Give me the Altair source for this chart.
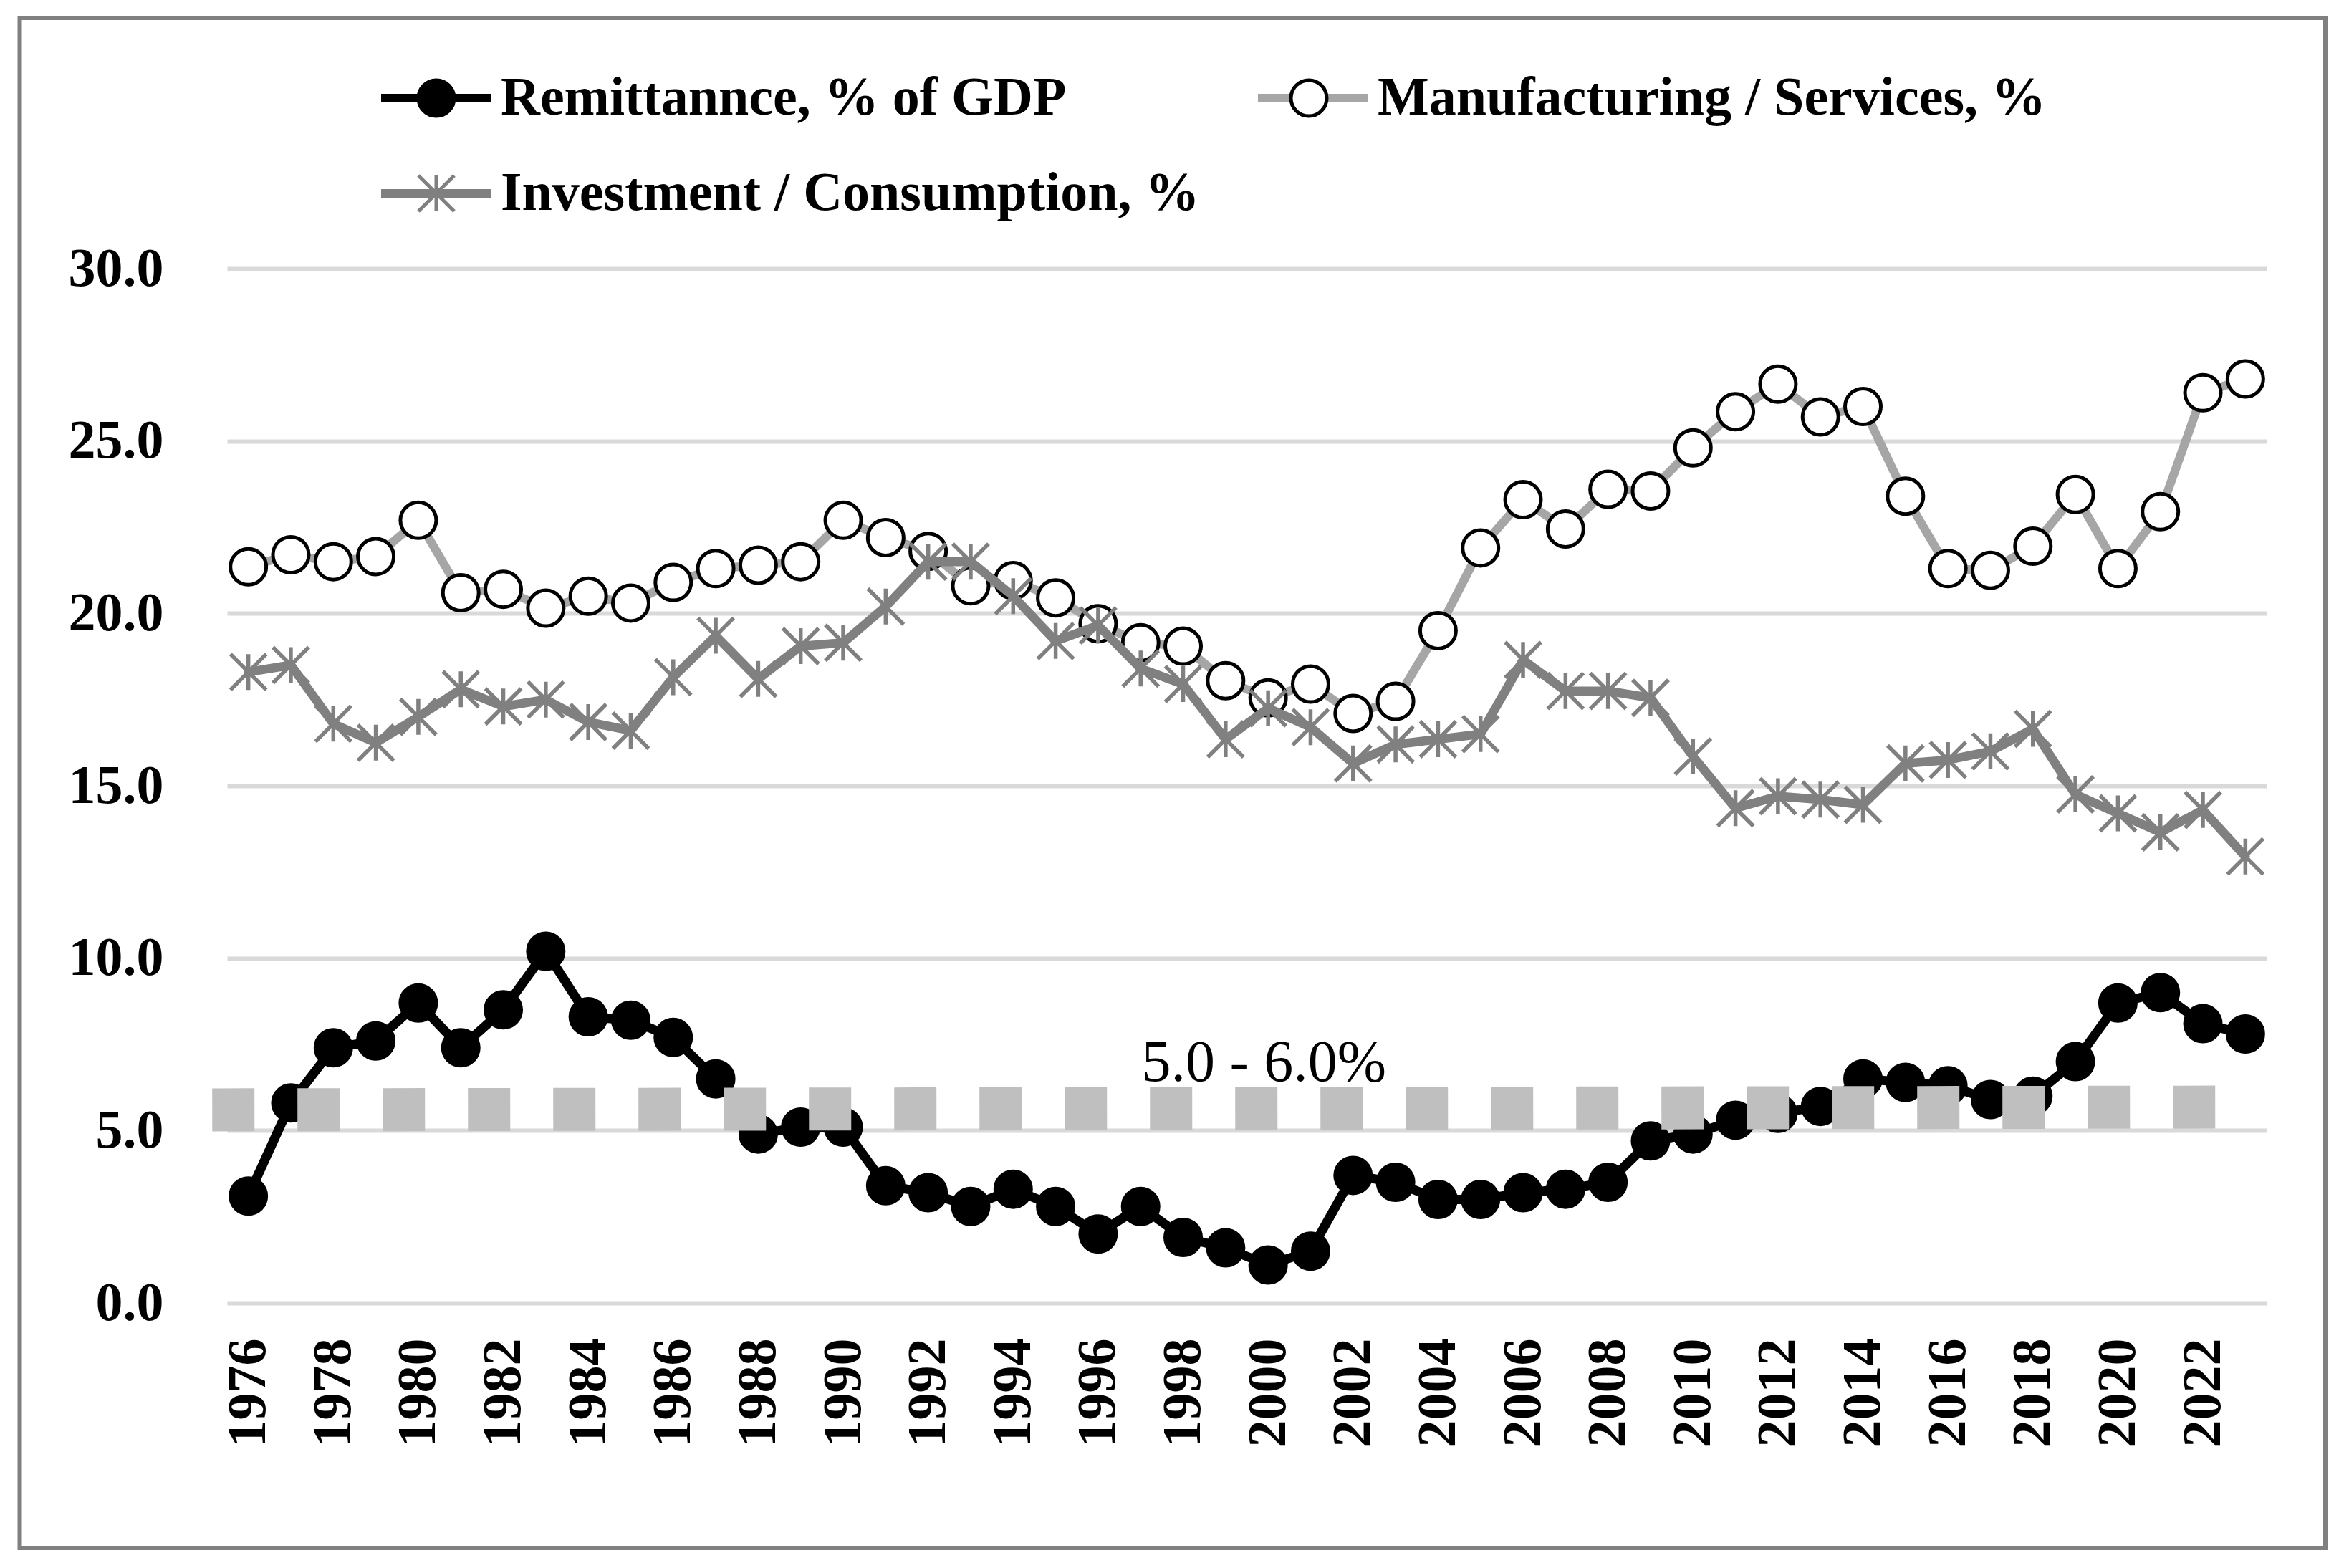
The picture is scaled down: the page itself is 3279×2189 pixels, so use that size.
import altair as alt
import pandas as pd

FONT = "Liberation Serif"

years = list(range(1976, 2024))

remittance = [3.1, 5.8, 7.4, 7.6, 8.7, 7.4, 8.5, 10.2, 8.3, 8.2,
              7.7, 6.5, 4.9, 5.1, 5.1, 3.4, 3.2, 2.8, 3.3, 2.8,
              2.0, 2.8, 1.9, 1.6, 1.1, 1.5, 3.7, 3.5, 3.0, 3.0,
              3.2, 3.3, 3.5, 4.7, 4.9, 5.3, 5.5, 5.7, 6.5, 6.4,
              6.3, 5.9, 6.0, 7.0, 8.7, 9.0, 8.1, 7.8]

manufacturing = [21.35, 21.7, 21.5, 21.65, 22.7, 20.6, 20.7, 20.15, 20.5, 20.3,
                 20.9, 21.3, 21.4, 21.5, 22.7, 22.2, 21.8, 20.8, 20.95, 20.45,
                 19.7, 19.15, 19.05, 18.05, 17.55, 17.95, 17.1, 17.45, 19.5, 21.9,
                 23.3, 22.45, 23.6, 23.55, 24.8, 25.85, 26.65, 25.7, 26.0, 23.4,
                 21.3, 21.25, 21.95, 23.45, 21.3, 22.95, 26.4, 26.8]

investment = [18.3, 18.5, 16.8, 16.25, 17.0, 17.8, 17.3, 17.5, 16.85, 16.6,
              18.15, 19.35, 18.1, 19.05, 19.15, 20.2, 21.5, 21.5, 20.5, 19.2,
              19.65, 18.4, 17.95, 16.35, 17.25, 16.7, 15.65, 16.2, 16.35, 16.5,
              18.65, 17.75, 17.75, 17.55, 15.85, 14.35, 14.7, 14.6, 14.45, 15.65,
              15.75, 16.0, 16.65, 14.75, 14.2, 13.65, 14.3, 12.95]

series_names = ["Remittannce, % of GDP", "Manufacturing / Services, %", "Investment / Consumption, %"]
series_codes = ["R", "M", "I"]
line_colors = ["#000000", "#a6a6a6", "#808080"]
line_widths = [13, 12, 12.5]
marker_fill = ["#000000", "#ffffff", "#808080"]
marker_stroke = ["#000000", "#000000", "#808080"]
marker_stroke_widths = [5, 5, 5.5]
ASTERISK = "M0,-1L0,1M-1,-1L1,1M-1,1L1,-1"
marker_shapes = ["circle", "circle", ASTERISK]

band_years = [1975.15, 2022.3]
band_values = [5.6, 5.68]
band_label = ["5.0 - 6.0%"]
band_label_year = [1999.9]
band_label_value = [6.45]

y_ticks = [0, 5, 10, 15, 20, 25, 30]
x_ticks = list(range(1976, 2023, 2))

rows = []
for name, code, vals in zip(series_names, series_codes, [remittance, manufacturing, investment]):
    for yr, v in zip(years, vals):
        rows.append({"year": yr, "value": v, "series": name, "code": code})
df = pd.DataFrame(rows)

band_df = pd.DataFrame({"year": band_years, "value": band_values})
label_df = pd.DataFrame({"year": band_label_year, "value": band_label_value, "label": band_label})

xscale = alt.Scale(domain=[1975.5, 2023.5], nice=False, zero=False)
yscale = alt.Scale(domain=[0, 30], nice=False, zero=True)

xaxis = alt.Axis(values=x_ticks, format="d", labelAngle=270, labelAlign="right",
                 labelBaseline="middle", labelPadding=49, labelFont=FONT, labelFontSize=76,
                 labelFontWeight="bold", labelColor="#000000", grid=False, domain=False,
                 ticks=False, title=None, labelOverlap=False)
yaxis = alt.Axis(values=y_ticks, format=".1f", labelPadding=89, labelFont=FONT,
                 labelFontSize=76, labelFontWeight="bold", labelColor="#000000",
                 grid=True, gridColor="#d9d9d9", gridWidth=6, domain=False, ticks=False,
                 title=None)

X = alt.X("year:Q", scale=xscale, axis=xaxis)
Y = alt.Y("value:Q", scale=yscale, axis=yaxis)

legend_common = dict(orient="none", legendX=209, legendY=-276, columns=2,
                     direction="horizontal", title=None, labelFont=FONT,
                     labelFontSize=76, labelFontWeight="bold", labelColor="#000000",
                     labelLimit=3000, rowPadding=57, clipHeight=76, padding=0,
                     labelBaseline="middle")

# legend of the connecting lines (carries the visible labels)
legendA = alt.Legend(symbolType="stroke", symbolSize=23716, symbolStrokeWidth=12,
                     labelOffset=7, symbolOffset=0, zindex=1, columnPadding=75,
                     **legend_common)

# legend of the markers (drawn over the line symbols, no labels of its own)
legendB = alt.Legend(symbolSize=2500, symbolStrokeWidth=5, labelOffset=97,
                     symbolOffset=45, labelExpr="''", symbolOpacity=1, zindex=2,
                     columnPadding=1000, **legend_common)

color_enc = alt.Color("series:N", scale=alt.Scale(domain=series_names, range=line_colors),
                      legend=legendA)
fill_enc = alt.Fill("code:N", scale=alt.Scale(domain=series_codes, range=marker_fill),
                    legend=legendB)
stroke_enc = alt.Stroke("code:N", scale=alt.Scale(domain=series_codes, range=marker_stroke),
                        legend=legendB)
shape_enc = alt.Shape("code:N", scale=alt.Scale(domain=series_codes, range=marker_shapes),
                      legend=legendB)

border = alt.Chart(pd.DataFrame({"k": [0]})).mark_rect(
    fill="transparent", stroke="#808080", strokeWidth=6
).encode(x=alt.value(-289.5), x2=alt.value(2929), y=alt.value(-350), y2=alt.value(1786))

layers = [border]
base = alt.Chart(df)
for code, w, sw in zip(series_codes, line_widths, marker_stroke_widths):
    line = base.transform_filter(alt.datum.code == code).mark_line(
        strokeWidth=w, strokeJoin="round", strokeCap="round"
    ).encode(x=X, y=Y, color=color_enc)
    pts = base.transform_filter(alt.datum.code == code).mark_point(
        filled=True, size=2500, strokeWidth=sw, opacity=1
    ).encode(x=X, y=Y, fill=fill_enc, stroke=stroke_enc, shape=shape_enc)
    layers += [line, pts]

band = alt.Chart(band_df).mark_line(
    stroke="#bfbfbf", strokeWidth=60, strokeDash=[59, 60], strokeCap="butt"
).encode(x=X, y=Y)

text = alt.Chart(label_df).mark_text(
    font=FONT, fontSize=82, fontWeight="normal", align="center", baseline="alphabetic",
    color="#000000"
).encode(x=X, y=Y, text="label:N")

layers += [band, text]

chart = alt.layer(*layers).properties(
    width=2847, height=1444,
    autosize=alt.AutoSizeParams(type="none"),
    padding={"left": 309, "top": 367, "right": 99, "bottom": 354},
    background="#ffffff",
).configure_view(stroke=None)

chart.save("out.html", embed_options={"renderer": "svg", "actions": False})
